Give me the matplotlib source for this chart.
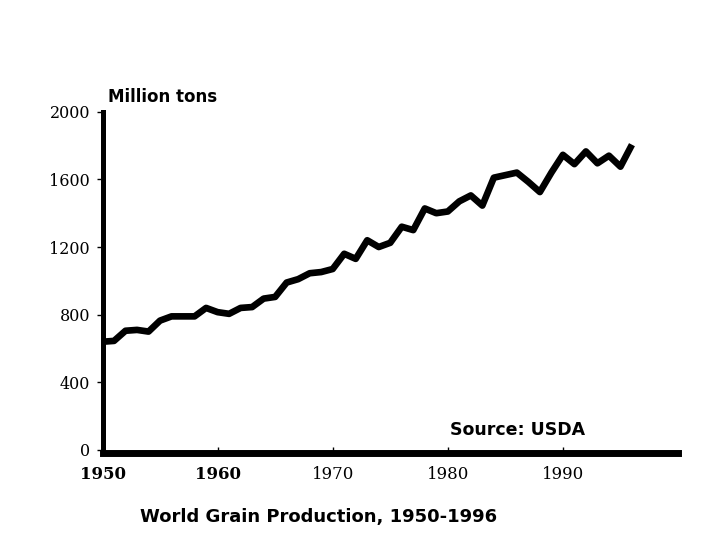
import matplotlib
matplotlib.use("Agg")
import matplotlib.pyplot as plt

years = list(range(1950, 1997))
production = [640, 645, 705, 710, 700, 765, 790, 790, 790, 840,
              815, 805, 840, 845, 895, 905, 990, 1010, 1045, 1052,
              1070, 1160, 1130, 1240, 1200, 1225, 1320, 1300, 1428, 1400,
              1410, 1470, 1505, 1445, 1610, 1625, 1640, 1585, 1525, 1640,
              1745, 1690, 1765, 1695, 1740, 1675, 1805]
xticks = [1950, 1960, 1970, 1980, 1990]
yticks = [0, 400, 800, 1200, 1600, 2000]

W, H = 720, 540
fig = plt.figure(figsize=(7.2, 5.4), dpi=100)
fig.patch.set_facecolor("white")
left, right, bottom, top = 102.5, 678, 450, 111.7
ax = fig.add_axes([left / W, (H - bottom) / H, (right - left) / W, (bottom - top) / H])

ax.plot(years, production, color="black", lw=4.8, solid_joinstyle="round", solid_capstyle="butt")
ax.set_xlim(1950, 2000)
ax.set_ylim(0, 2000)

for s in ["top", "right"]:
    ax.spines[s].set_visible(False)
ax.spines["left"].set_linewidth(3.6)
ax.spines["bottom"].set_linewidth(5)
ax.spines["bottom"].set_position(("outward", 2.2))

ax.set_xticks(xticks)
ax.set_xticklabels([str(v) for v in xticks])
ax.set_yticks(yticks)
ax.set_yticklabels([str(v) for v in yticks])
ax.tick_params(axis="y", direction="out", length=4.5, width=1, pad=4.5, labelsize=11.5)
ax.tick_params(axis="x", direction="in", length=4, width=1, pad=9, labelsize=12)
for lbl in ax.get_yticklabels():
    lbl.set_family("DejaVu Serif")
for i, lbl in enumerate(ax.get_xticklabels()):
    lbl.set_family("DejaVu Serif")
    if i < 2:
        lbl.set_fontweight("bold")

fig.text(108 / W, (H - 102) / H, "Million tons", fontsize=12, fontweight="bold",
         family="DejaVu Sans", ha="left", va="baseline")
fig.text(450 / W, (H - 435) / H, "Source: USDA", fontsize=12.5, fontweight="bold",
         family="DejaVu Sans", ha="left", va="baseline")
fig.text(140 / W, (H - 522) / H, "World Grain Production, 1950-1996", fontsize=13,
         fontweight="bold", family="DejaVu Sans", ha="left", va="baseline")

fig.savefig("out.png", dpi=100, facecolor="white")
